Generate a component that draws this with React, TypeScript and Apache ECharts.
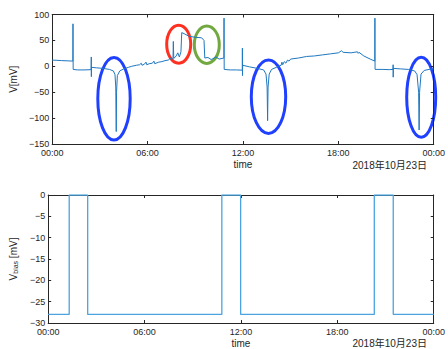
import React, { useEffect, useRef } from "react";
import * as echarts from "echarts";

// Top panel: membrane voltage V [mV] vs time (hours since 00:00)
const vTimes = [
  0.0, 0.3, 0.6, 1.0, 1.3, 1.31, 1.32, 1.6, 2.0, 2.45, 2.46, 2.465, 2.47, 2.8, 3.2, 3.6, 3.85, 3.95, 4.0, 4.03,
  4.05, 4.1, 4.25, 4.5, 4.8, 5.0, 5.3, 5.5, 5.6, 5.65, 5.8, 5.9, 5.95, 6.1, 6.3, 6.4, 6.45, 6.7, 6.9, 7.1,
  7.3, 7.45, 7.5, 7.6, 7.62, 7.65, 7.8, 7.9, 8.0, 8.1, 8.15, 8.3, 8.6, 9.0, 9.4, 9.55, 9.6, 9.8, 10.0, 10.3,
  10.5, 10.8, 10.81, 10.82, 11.2, 11.6, 11.96, 11.965, 11.97, 11.98, 12.4, 12.9, 13.3, 13.45, 13.52, 13.55, 13.58, 13.65, 13.8, 14.1,
  14.4, 14.45, 14.5, 14.6, 14.7, 14.8, 14.9, 15.0, 15.5, 16.0, 16.5, 17.0, 17.5, 18.0, 18.2, 18.3, 18.8, 19.2, 19.25, 19.3,
  19.6, 20.0, 20.29, 20.3, 20.31, 20.8, 21.2, 21.44, 21.445, 21.45, 21.46, 21.9, 22.4, 22.8, 22.95, 23.05, 23.08, 23.11, 23.2, 23.4,
  23.7, 24.0,
];
const vValues = [
  12, 11.5, 11, 10.5, 10, 82, -6, -7, -7, -6.5, 18, -20, -2, -3, -4, -6, -9, -16, -40, -126,
  -50, -18, -9, -5, -2, 0, 2, 3, 6, 2, 4, 8, 3, 5, 6, 10, 5, 8, 9, 11,
  12, 16, 12, 15, 48, 15, 20, 26, 18, 28, 65, 63, 58, 56, 55, 50, 16, 17, 13, 18,
  14, 16, 93, -6, -7, -7, -7.5, 35, -18, 2, -1, -4, -7, -15, -40, -105, -40, -15, -6, -2,
  2, 8, 3, 9, 6, 12, 10, 14, 16, 19, 20, 22, 24, 26, 30, 27, 26, 28, 25, 27,
  20, 14, 10, 93, -6, -6, -6.5, -6, 3, -21, -4, -5, -6, -9, -16, -50, -123, -50, -15, -8,
  -6, -5,
];

// Bottom panel: bias voltage V_bias [mV] (step changes)
const biasTimes = [0, 1.31, 2.46, 10.81, 11.98, 20.3, 21.48, 24];
const biasValues = [-28, 0, -28, 0, -28, 0, -28, -28];

const xTicks = [0, 6, 12, 18, 24];
const vTicks = [100, 50, 0, -50, -100, -150];
const biasTicks = [0, -5, -10, -15, -20, -25, -30];

const dateLabel = "2018年10月23日";

export default function App() {
  const ref = useRef<HTMLDivElement>(null);
  useEffect(() => {
    if (!ref.current) return;
    const chart = echarts.init(ref.current, undefined, { renderer: "svg" });
    const fontFamily = "'Liberation Sans', Arial, 'Noto Sans CJK JP', sans-serif";
    const axisColor = "#262626";
    const textColor = "#262626";
    const fmtX = (v: number) => {
      const h = Math.round(v) % 24;
      return (h < 10 ? "0" : "") + h + ":00";
    };
    const fmtY = (v: number) => (v < 0 ? "\u2212" + Math.abs(v) : String(v));
    const grids = [
      { left: 47, width: 390, top: 14.5, height: 129.5 },
      { left: 47, width: 390, top: 195, height: 129 },
    ];
    const xCommon = (gi: number, pos: "bottom" | "top") => ({
      type: "value" as const,
      gridIndex: gi,
      position: pos,
      min: xTicks[0],
      max: xTicks[xTicks.length - 1],
      interval: 6,
      axisLine: { show: true, onZero: false, lineStyle: { color: axisColor, width: 1 } },
      axisTick: { show: true, inside: true, length: 3, lineStyle: { color: axisColor } },
      splitLine: { show: false },
      axisLabel: {
        show: pos === "bottom",
        formatter: fmtX,
        fontSize: 9,
        color: textColor,
        fontFamily,
        margin: 4,
      },
      name: pos === "bottom" ? "time" : "",
      nameLocation: "middle" as const,
      nameGap: 15,
      nameTextStyle: { fontSize: 10, color: textColor, fontFamily },
    });
    const yCommon = (gi: number, pos: "left" | "right", min: number, max: number, interval: number, name: any, gap: number) => ({
      type: "value" as const,
      gridIndex: gi,
      position: pos,
      min,
      max,
      interval,
      axisLine: { show: true, onZero: false, lineStyle: { color: axisColor, width: 1 } },
      axisTick: { show: true, inside: true, length: 3, lineStyle: { color: axisColor } },
      splitLine: { show: false },
      axisLabel: {
        show: pos === "left",
        formatter: fmtY,
        fontSize: 9,
        color: textColor,
        fontFamily,
        margin: 3,
      },
      name: pos === "left" ? name : "",
      nameLocation: "middle" as const,
      nameGap: gap,
      nameRotate: 90,
      nameTextStyle: {
        fontSize: 10,
        color: textColor,
        fontFamily,
        rich: {
          a: { fontSize: 10, color: textColor, fontFamily },
          b: { fontSize: 7, color: textColor, fontFamily, padding: [5, 0, 0, 0] },
        },
      },
    });

    chart.setOption({
      animation: false,
      backgroundColor: "#ffffff",
      grid: grids,
      xAxis: [xCommon(0, "bottom"), xCommon(0, "top"), xCommon(1, "bottom"), xCommon(1, "top")],
      yAxis: [
        yCommon(0, "left", vTicks[vTicks.length - 1], vTicks[0], 50, "V[mV]", 25),
        yCommon(0, "right", vTicks[vTicks.length - 1], vTicks[0], 50, "", 25),
        yCommon(1, "left", biasTicks[biasTicks.length - 1], biasTicks[0], 5, "{a|V}{b|bias}{a| [mV]}", 24),
        yCommon(1, "right", biasTicks[biasTicks.length - 1], biasTicks[0], 5, "", 24),
      ],
      series: [
        {
          type: "line",
          xAxisIndex: 0,
          yAxisIndex: 0,
          data: vTimes.map((t, i) => [t, vValues[i]]),
          showSymbol: false,
          lineStyle: { color: "#1f78c1", width: 1 },
          silent: true,
        },
        {
          type: "line",
          xAxisIndex: 2,
          yAxisIndex: 2,
          step: "end",
          data: biasTimes.map((t, i) => [t, biasValues[i]]),
          showSymbol: false,
          lineStyle: { color: "#4ba3e0", width: 1.3 },
          silent: true,
        },
      ],
      graphic: [
        {
          type: "text",
          style: { text: dateLabel, x: 427, y: 165, align: "right", verticalAlign: "middle", fontSize: 10, fill: textColor, fontFamily },
        },
        {
          type: "text",
          style: { text: dateLabel, x: 427, y: 343, align: "right", verticalAlign: "middle", fontSize: 10, fill: textColor, fontFamily },
        },
        { type: "ellipse", shape: { cx: 114, cy: 98.7, rx: 16.2, ry: 41.3 }, style: { fill: "none", stroke: "#2040ff", lineWidth: 3 } },
        { type: "ellipse", shape: { cx: 268.5, cy: 96.7, rx: 17.2, ry: 36.7 }, style: { fill: "none", stroke: "#2040ff", lineWidth: 3 } },
        { type: "ellipse", shape: { cx: 421.2, cy: 97.3, rx: 14.5, ry: 40 }, style: { fill: "none", stroke: "#2040ff", lineWidth: 3 } },
        { type: "ellipse", shape: { cx: 178.7, cy: 44.2, rx: 12, ry: 19 }, style: { fill: "none", stroke: "#ff3020", lineWidth: 3 } },
        { type: "ellipse", shape: { cx: 206.8, cy: 44.7, rx: 12.5, ry: 18.7 }, style: { fill: "none", stroke: "#72a840", lineWidth: 3 } },
      ],
    });
    return () => chart.dispose();
  }, []);
  return <div ref={ref} style={{ position: "absolute", left: 0, top: 0, width: 448, height: 349 }} />;
}
